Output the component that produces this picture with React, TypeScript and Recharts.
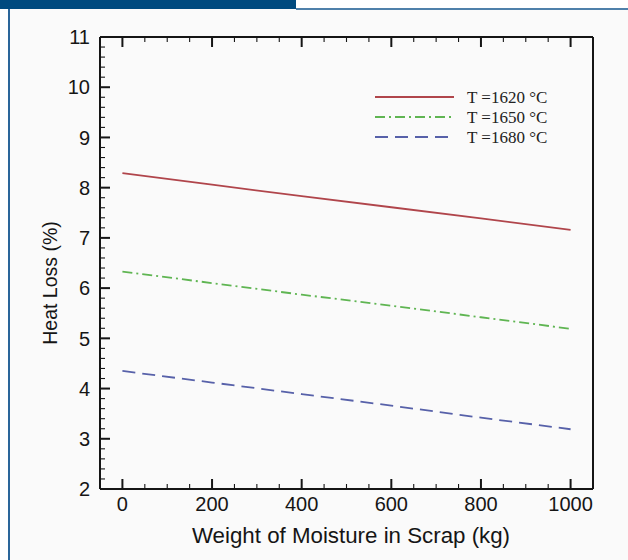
import { LineChart, Line, XAxis, YAxis, Legend } from 'recharts';

// moisture weight in scrap (kg)
const WEIGHTS = [0, 200, 400, 600, 800, 1000];
// heat loss (%) per melt temperature
const LOSS_1620 = [8.29, 8.06, 7.83, 7.61, 7.39, 7.16];
const LOSS_1650 = [6.33, 6.1, 5.87, 5.65, 5.42, 5.19];
const LOSS_1680 = [4.35, 4.12, 3.89, 3.66, 3.42, 3.19];

const X_LABELS = [0, 200, 400, 600, 800, 1000];
const Y_LABELS = [2, 3, 4, 5, 6, 7, 8, 9, 10, 11];

// minor tick positions: every 50 kg, every 0.2 %
const X_TICKS = Array.from({ length: 21 }, (_, i) => i * 50);
const Y_TICKS = Array.from({ length: 46 }, (_, i) => Math.round((2 + i * 0.2) * 10) / 10);

const SERIES = [
  { key: 't1620', name: 'T =1620 \u00b0C', color: '#b0454b', dash: undefined },
  { key: 't1650', name: 'T =1650 \u00b0C', color: '#5fb552', dash: '10 4 2 4' },
  { key: 't1680', name: 'T =1680 \u00b0C', color: '#5761a9', dash: '13 7' },
];

const rows = WEIGHTS.map((w, i) => ({
  w,
  t1620: LOSS_1620[i],
  t1650: LOSS_1650[i],
  t1680: LOSS_1680[i],
}));

const INK = '#151515';
const SANS = '"Liberation Sans", Arial, sans-serif';
const SERIF = '"Liberation Serif", "Times New Roman", serif';

const isMajorX = (v: number) => X_LABELS.includes(v);
const isMajorY = (v: number) => Y_LABELS.includes(v);

function BottomTick({ x, y, payload }: any) {
  const major = isMajorX(payload.value);
  return (
    <g>
      <line x1={x} x2={x} y1={y} y2={y - (major ? 10 : 5)} stroke={INK} strokeWidth={major ? 2 : 1.1} />
      {major && (
        <text x={x} y={y + 21.5} textAnchor="middle" fontFamily={SANS} fontSize={20} fill={INK}>
          {payload.value}
        </text>
      )}
    </g>
  );
}

function TopTick({ x, y, payload }: any) {
  const major = isMajorX(payload.value);
  return <line x1={x} x2={x} y1={y} y2={y + (major ? 10 : 5)} stroke={INK} strokeWidth={major ? 2 : 1.1} />;
}

function LeftTick({ x, y, payload }: any) {
  const major = isMajorY(payload.value);
  return (
    <g>
      <line x1={x} x2={x + (major ? 10 : 5)} y1={y} y2={y} stroke={INK} strokeWidth={major ? 2 : 1.1} />
      {major && (
        <text x={x - 10} y={y} dy="0.36em" textAnchor="end" fontFamily={SANS} fontSize={20} fill={INK}>
          {payload.value}
        </text>
      )}
    </g>
  );
}

function RightTick({ x, y, payload }: any) {
  const major = isMajorY(payload.value);
  return <line x1={x} x2={x - (major ? 10 : 5)} y1={y} y2={y} stroke={INK} strokeWidth={major ? 2 : 1.1} />;
}

function LegendBox() {
  return (
    <svg width={200} height={62}>
      {SERIES.map((s, i) => (
        <g key={s.key}>
          <line x1={5} x2={84} y1={10 + i * 20} y2={10 + i * 20} stroke={s.color} strokeWidth={1.8} strokeDasharray={s.dash} />
          <text x={97} y={15.5 + i * 20} fontFamily={SERIF} fontSize={17} fill="#222">
            {s.name}
          </text>
        </g>
      ))}
    </svg>
  );
}

const axisLine = { stroke: INK, strokeWidth: 2 };

export default function App() {
  return (
    <div style={{ position: 'absolute', left: 0, top: 0, width: 628, height: 560, background: '#fff', overflow: 'hidden' }}>
      <div style={{ position: 'absolute', left: 9, top: 9, width: 619, height: 551, background: '#fafafa' }} />
      <div style={{ position: 'absolute', left: 0, top: 0 }}>
        <LineChart width={628} height={560} data={rows} margin={{ top: 0, right: 0, bottom: 0, left: 0 }}>
          <XAxis
            xAxisId="b"
            dataKey="w"
            type="number"
            domain={[-50, 1050]}
            ticks={X_TICKS}
            interval={0}
            height={71}
            tickSize={0}
            tickMargin={0}
            tickLine={false}
            axisLine={axisLine}
            tick={(p: any) => <BottomTick {...p} />}
            label={() => (
              <text x={351} y={543} textAnchor="middle" fontFamily={SANS} fontSize={22.3} fill={INK}>
                Weight of Moisture in Scrap (kg)
              </text>
            )}
          />
          <XAxis
            xAxisId="t"
            dataKey="w"
            type="number"
            orientation="top"
            domain={[-50, 1050]}
            ticks={X_TICKS}
            interval={0}
            height={37}
            tickSize={0}
            tickMargin={0}
            tickLine={false}
            axisLine={axisLine}
            tick={(p: any) => <TopTick {...p} />}
          />
          <YAxis
            yAxisId="l"
            type="number"
            domain={[2, 11]}
            ticks={Y_TICKS}
            interval={0}
            width={100}
            tickSize={0}
            tickMargin={0}
            tickLine={false}
            axisLine={axisLine}
            tick={(p: any) => <LeftTick {...p} />}
            label={() => (
              <text
                x={50}
                y={283}
                transform="rotate(-90 50 283)"
                textAnchor="middle"
                dy="0.36em"
                fontFamily={SANS}
                fontSize={19.5}
                fill={INK}
              >
                Heat Loss (%)
              </text>
            )}
          />
          <YAxis
            yAxisId="r"
            type="number"
            orientation="right"
            domain={[2, 11]}
            ticks={Y_TICKS}
            interval={0}
            width={35}
            tickSize={0}
            tickMargin={0}
            tickLine={false}
            axisLine={axisLine}
            tick={(p: any) => <RightTick {...p} />}
          />
          <Legend
            layout="horizontal"
            verticalAlign="middle"
            align="center"
            content={() => <LegendBox />}
            wrapperStyle={{ position: 'absolute', top: 87, left: 370, width: 200, height: 62 }}
          />
          {SERIES.map((s) => (
            <Line
              key={s.key}
              xAxisId="b"
              yAxisId="l"
              dataKey={s.key}
              name={s.name}
              stroke={s.color}
              strokeWidth={1.8}
              strokeDasharray={s.dash}
              dot={false}
              activeDot={false}
              isAnimationActive={false}
            />
          ))}
        </LineChart>
      </div>
      <div style={{ position: 'absolute', left: 0, top: 0, width: 296, height: 9, background: '#004a7f' }} />
      <div style={{ position: 'absolute', left: 296, top: 8, width: 332, height: 1.5, background: '#4f80aa' }} />
      <div style={{ position: 'absolute', left: 8, top: 9, width: 1.8, height: 551, background: '#2a659a' }} />
    </div>
  );
}
